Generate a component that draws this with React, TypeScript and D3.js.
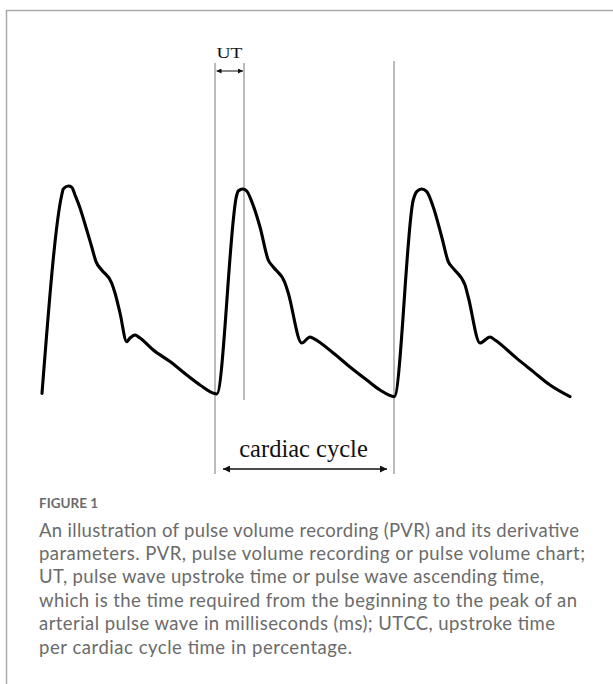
import * as d3 from 'd3';

// pulse wave trace, time in ms, amplitude in arbitrary units
const TIME_MS = [
  0, 79, 85, 105, 119, 132, 152, 179, 199, 216, 239, 279, 292, 312, 339, 352, 372, 392, 445, 512, 579, 632, 699,
  779, 785, 803, 819, 839, 872, 905, 925, 972, 985, 1039, 1072, 1085, 1165, 1232, 1299, 1352, 1409,
  1485, 1499, 1519, 1539, 1565, 1599, 1625, 1645, 1692, 1705, 1752, 1792, 1812, 1899, 1965, 2032, 2112,
];
const AMPLITUDE = [
  1.8, 101, 104, 105.5, 104.9, 101, 94.5, 83.5, 75, 67.7, 63.5, 56.9, 52, 42, 27.7, 29.5, 31, 29.5, 23.5, 17.7, 11, 6, 1.5,
  101, 103, 104, 103, 97.7, 85, 68.5, 65, 57, 52, 27, 30, 29.3, 22, 15, 8.5, 3.5, 0.2,
  98.5, 102.7, 104, 102.7, 95, 80, 67.7, 64.3, 56, 50, 27, 30, 28.5, 19.3, 12.7, 6, 0.2,
];

// markers: start of cycle, peak (end of upstroke), end of cycle
const CYCLE_START = 692;
const UPSTROKE_PEAK = 808;
const CYCLE_END = 1408;

const UT_LABEL = 'UT';
const CYCLE_LABEL = 'cardiac cycle';

const CAPTION_TITLE = 'FIGURE 1';
const CAPTION_LINES = [
  'An illustration of pulse volume recording (PVR) and its derivative',
  'parameters. PVR, pulse volume recording or pulse volume chart;',
  'UT, pulse wave upstroke time or pulse wave ascending time,',
  'which is the time required from the beginning to the peak of an',
  'arterial pulse wave in milliseconds (ms); UTCC, upstroke time',
  'per cardiac cycle time in percentage.',
];
// measured widths of the caption lines
const CAPTION_WIDTHS = [540, 546, 505, 538, 516, 313];

const WIDTH = 613;
const HEIGHT = 684;

export default function App() {
  const xScale = d3.scaleLinear().domain([0, 2124]).range([42, 573]);
  const yScale = d3.scaleLinear().domain([0, 105]).range([397, 187]);

  const points: [number, number][] = TIME_MS.map((t, i) => [t, AMPLITUDE[i]]);
  const line = d3
    .line<[number, number]>()
    .x((d) => xScale(d[0]))
    .y((d) => yScale(d[1]))
    .curve(d3.curveMonotoneX);

  const xs = xScale(CYCLE_START);
  const xp = xScale(UPSTROKE_PEAK);
  const xe = xScale(CYCLE_END);

  return (
    <div style={{ position: 'absolute', left: 0, top: 0 }}>
      <svg width={WIDTH} height={HEIGHT} style={{ display: 'block', background: '#fff' }}>
        <defs>
          <marker id="sm" viewBox="0 0 10 10" refX="10" refY="5" markerWidth="5" markerHeight="5" markerUnits="userSpaceOnUse" orient="auto-start-reverse">
            <path d="M0,0 L10,5 L0,10 z" fill="#111" />
          </marker>
          <marker id="lg" viewBox="0 0 10 10" refX="10" refY="5" markerWidth="9" markerHeight="7" markerUnits="userSpaceOnUse" orient="auto-start-reverse">
            <path d="M0,0 L10,5 L0,10 z" fill="#111" />
          </marker>
        </defs>

        {/* frame */}
        <path d={`M6.5,${HEIGHT} V10.5 H${WIDTH}`} fill="none" stroke="#aaa" strokeWidth={1.5} />

        {/* reference lines */}
        <g stroke="#777" strokeWidth={1}>
          <line x1={xs} x2={xs} y1={63} y2={474} />
          <line x1={xp} x2={xp} y1={63} y2={400} />
          <line x1={xe} x2={xe} y1={61} y2={474} />
        </g>

        <path d={line(points) ?? ''} fill="none" stroke="#000" strokeWidth={3.1} strokeLinejoin="round" strokeLinecap="round" />

        {/* UT annotation */}
        <line x1={xs + 1.5} x2={xp - 1} y1={71} y2={71} stroke="#111" strokeWidth={1} markerStart="url(#sm)" markerEnd="url(#sm)" />
        <text
          x={(xs + xp) / 2}
          y={58}
          textAnchor="middle"
          fontFamily="'Liberation Serif', serif"
          fontSize={15}
          textLength={26}
          lengthAdjust="spacingAndGlyphs"
          fill="#111"
        >
          {UT_LABEL}
        </text>

        {/* cardiac cycle annotation */}
        <line x1={xs + 8} x2={xe - 7} y1={469} y2={469} stroke="#111" strokeWidth={1.3} markerStart="url(#lg)" markerEnd="url(#lg)" />
        <text
          x={(xs + xe) / 2 - 1}
          y={457}
          textAnchor="middle"
          fontFamily="'Liberation Serif', serif"
          fontSize={24.5}
          fill="#111"
        >
          {CYCLE_LABEL}
        </text>

        {/* caption */}
        <text x={39} y={508} fontFamily="Lato, 'Open Sans', sans-serif" fontWeight={700} fontSize={13.5} fill="#6b6b6b">
          {CAPTION_TITLE}
        </text>
        {CAPTION_LINES.map((s, i) => (
          <text
            key={i}
            x={39}
            y={536.5 + i * 23.4}
            fontFamily="Lato, 'Open Sans', sans-serif"
            fontSize={18.5}
            textLength={CAPTION_WIDTHS[i]}
            lengthAdjust="spacing"
            fill="#6b6b6b"
          >
            {s}
          </text>
        ))}
      </svg>
    </div>
  );
}
